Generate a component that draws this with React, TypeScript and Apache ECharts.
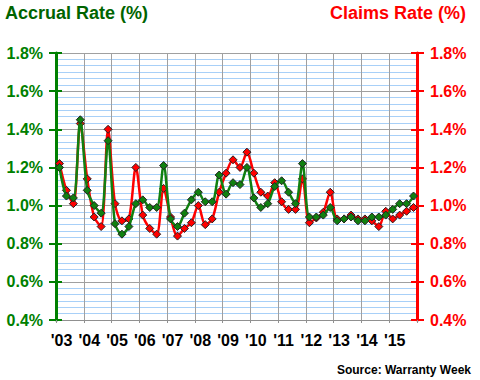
import React, { useEffect, useRef } from "react";
import * as echarts from "echarts";

const quarters: string[] = [];
const years = ["03", "04", "05", "06", "07", "08", "09", "10", "11", "12", "13", "14", "15"];
for (const y of years) for (const q of [1, 2, 3, 4]) quarters.push(`20${y}Q${q}`);

const accrualRate = [
  1.2, 1.05, 1.04, 1.45, 1.08, 1.0, 0.96, 1.34,
  0.905, 0.85, 0.89, 1.01, 1.03, 0.99, 0.99, 1.21,
  0.93, 0.89, 0.96, 1.03, 1.07, 1.02, 1.02, 1.16,
  1.06, 1.12, 1.11, 1.2, 1.04, 0.99, 1.01, 1.1,
  1.13, 1.07, 1.01, 1.22, 0.94, 0.94, 0.95, 0.99,
  0.92, 0.93, 0.94, 0.92, 0.92, 0.94, 0.94, 0.95,
  0.98, 1.01, 1.01, 1.05,
];
const claimsRate = [
  1.22, 1.08, 1.01, 1.43, 1.14, 0.94, 0.89, 1.4,
  1.01, 0.92, 0.93, 1.2, 0.95, 0.88, 0.85, 1.09,
  0.94, 0.84, 0.88, 0.91, 1.0, 0.9, 0.93, 1.07,
  1.17, 1.24, 1.2, 1.28, 1.17, 1.07, 1.05, 1.12,
  1.02, 0.98, 0.98, 1.14, 0.91, 0.935, 0.965, 1.07,
  0.93, 0.93, 0.95, 0.93, 0.93, 0.92, 0.89, 0.97,
  0.93, 0.95, 0.97, 0.99,
];

const FONT = "Arial, 'Liberation Sans', sans-serif";
const GREEN = "#008000";
const RED = "#ff0000";

export default function App() {
  const ref = useRef<HTMLDivElement>(null);
  useEffect(() => {
    if (!ref.current) return;
    const chart = echarts.init(ref.current, null, { renderer: "svg" });
    const yBase = { type: "value", min: 0.4, max: 1.8, interval: 0.2 };
    chart.setOption({
      animation: false,
      backgroundColor: "#ffffff",
      grid: { left: 56, right: 63, top: 53, bottom: 60 },
      graphic: [
        { type: "text", left: 5, top: 4, style: { text: "Accrual Rate (%)", font: `bold 18px ${FONT}`, fill: "#006400" } },
        { type: "text", right: 14, top: 4, style: { text: "Claims Rate (%)", font: `bold 18px ${FONT}`, fill: RED } },
        { type: "text", right: 9, top: 364, style: { text: "Source: Warranty Week", font: `bold 12px ${FONT}`, fill: "#000" } },
      ],
      xAxis: {
        type: "category",
        data: quarters,
        boundaryGap: true,
        axisLine: { lineStyle: { color: "#909090", width: 1 } },
        axisTick: { show: true, interval: 3, length: 3, lineStyle: { color: "#909090" } },
        axisLabel: {
          interval: 3,
          margin: 12,
          padding: [0, 0, 0, 4],
          color: "#000",
          fontFamily: FONT,
          fontWeight: "bold",
          fontSize: 16,
          formatter: (v: string) => "'" + v.slice(2, 4),
        },
        splitLine: { show: true, interval: 3, lineStyle: { color: "#a0a0a0", width: 1 } },
      },
      yAxis: [
        {
          ...yBase,
          position: "left",
          axisLine: { show: true, lineStyle: { color: GREEN, width: 3 } },
          axisTick: { show: true, length: 7, lineStyle: { color: GREEN, width: 2 } },
          axisLabel: {
            margin: 13,
            color: GREEN,
            fontFamily: FONT,
            fontWeight: "bold",
            fontSize: 16,
            formatter: (v: number) => v.toFixed(1) + "%",
          },
          splitLine: { show: true, lineStyle: { color: "#a0a0a0", width: 1 } },
          minorTick: { show: false, splitNumber: 6 },
          minorSplitLine: { show: true, lineStyle: { color: "#a8d0f8", width: 1 } },
        },
        {
          ...yBase,
          position: "right",
          axisLine: { show: true, lineStyle: { color: RED, width: 3 } },
          axisTick: { show: true, length: 7, lineStyle: { color: RED, width: 2 } },
          axisLabel: {
            margin: 13,
            color: RED,
            fontFamily: FONT,
            fontWeight: "bold",
            fontSize: 16,
            formatter: (v: number) => v.toFixed(1) + "%",
          },
          splitLine: { show: false },
        },
        {
          ...yBase,
          position: "left",
          axisLine: { show: false },
          axisTick: { show: true, inside: true, length: 6, lineStyle: { color: GREEN, width: 2 } },
          axisLabel: { show: false },
          splitLine: { show: false },
        },
        {
          ...yBase,
          position: "right",
          axisLine: { show: false },
          axisTick: { show: true, inside: true, length: 6, lineStyle: { color: RED, width: 2 } },
          axisLabel: { show: false },
          splitLine: { show: false },
        },
      ],
      series: [
        {
          name: "Claims Rate",
          type: "line",
          yAxisIndex: 1,
          data: claimsRate,
          symbol: "diamond",
          symbolSize: 8,
          showAllSymbol: true,
          smooth: 0.3,
          lineStyle: { color: RED, width: 2.5 },
          itemStyle: { color: RED, borderColor: "#222", borderWidth: 1 },
          z: 3,
        },
        {
          name: "Accrual Rate",
          type: "line",
          yAxisIndex: 0,
          data: accrualRate,
          symbol: "diamond",
          symbolSize: 8,
          showAllSymbol: true,
          smooth: 0.3,
          lineStyle: { color: "#108010", width: 2.5 },
          itemStyle: { color: "#108010", borderColor: "#222", borderWidth: 1 },
          z: 4,
        },
      ],
    });
    return () => chart.dispose();
  }, []);
  return (
    <div
      ref={ref}
      style={{ position: "fixed", left: 0, top: 0, width: 480, height: 380 }}
    />
  );
}
